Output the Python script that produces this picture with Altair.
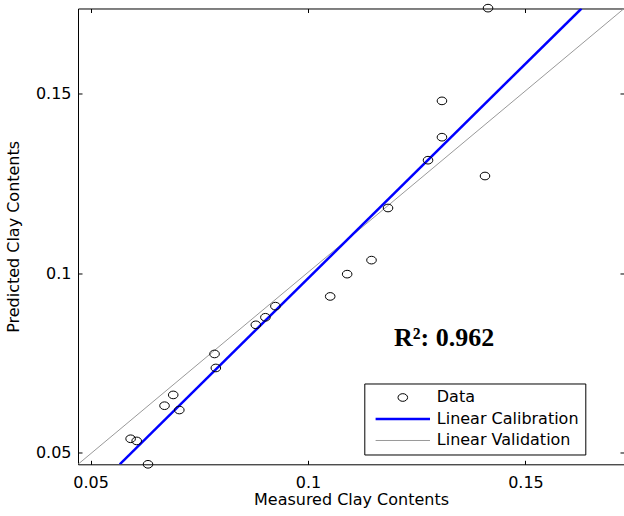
import altair as alt
import pandas as pd

# ---- data ----
measured = [0.1414, 0.1308, 0.1308, 0.1276, 0.1407, 0.1184, 0.1146, 0.1090, 0.1051, 0.0925,
            0.0902, 0.0880, 0.0785, 0.0788, 0.0690, 0.0670, 0.0704, 0.0592, 0.0606, 0.0632]
predicted = [0.1737, 0.1479, 0.1378, 0.1314, 0.1270, 0.1181, 0.1036, 0.0997, 0.0935, 0.0908,
             0.0877, 0.0856, 0.0775, 0.0736, 0.0661, 0.0631, 0.0619, 0.0539, 0.0533, 0.0468]
cal_x = [0.0567, 0.1629]
cal_y = [0.0468, 0.1736]
val_x = [0.0471, 0.1727]
val_y = [0.0468, 0.1736]
series = ["Data", "Linear Calibration", "Linear Validation"]
colors = ["#000000", "#0000ff", "#999999"]
tick_values = [0.05, 0.1, 0.15]
x_domain = [0.0471, 0.17267]
y_domain = [0.0468, 0.1736]
r2_text = ["R\u00b2: 0.962"]
r2_x = [0.1313]
r2_y = [0.0797]

FONT = "DejaVu Sans"
ELLIPSE = "M-0.6,0A0.6,0.48,0,1,1,0.6,0A0.6,0.48,0,1,1,-0.6,0Z"
STROKE = "M-3.4,0L3.4,0"

pts = pd.DataFrame({"x": measured, "y": predicted, "series": series[0]})
cal = pd.DataFrame({"x": cal_x, "y": cal_y, "series": series[1]})
val = pd.DataFrame({"x": val_x, "y": val_y, "series": series[2]})
ann = pd.DataFrame({"x": r2_x, "y": r2_y, "t": r2_text})

xs = alt.Scale(domain=x_domain, nice=False, zero=False)
ys = alt.Scale(domain=y_domain, nice=False, zero=False)
cs = alt.Scale(domain=series, range=colors)

legend = alt.Legend(
    title=None, orient="none", legendX=286.3, legendY=375,
    strokeColor="black", fillColor="white", padding=6, rowPadding=5.5,
    symbolSize=256, symbolOffset=24.5, labelOffset=26,
    symbolType=alt.ExprRef(expr=f"datum.value === 'Data' ? '{ELLIPSE}' : '{STROKE}'"),
    symbolStrokeWidth=alt.ExprRef(expr="datum.value === 'Linear Calibration' ? 2.5 : 1"),
    symbolFillColor="transparent", symbolOpacity=1,
    labelFont=FONT, labelFontSize=16, labelColor="black", labelLimit=300,
)


def main_axis(orient, title, label_pad, title_pad):
    return alt.Axis(orient=orient, values=tick_values, format="~g", ticks=False, tickSize=0,
                    domain=True, domainColor="black", domainWidth=1, grid=False,
                    labelFont=FONT, labelFontSize=16, labelColor="black",
                    labelPadding=label_pad, labelOverlap=False, labelFlush=False,
                    title=title, titleFont=FONT, titleFontSize=16, titleFontWeight="normal",
                    titleColor="black", titlePadding=title_pad)


def tick_axis(orient):
    return alt.Axis(orient=orient, values=tick_values, offset=-4, ticks=True, tickSize=4,
                    tickColor="black", tickWidth=1, domain=False, labels=False,
                    grid=False, title=None)


points = alt.Chart(pts).mark_point(shape=ELLIPSE, size=256, filled=False, strokeWidth=1,
                                   opacity=1).encode(
    x=alt.X("x:Q", scale=xs, axis=main_axis("bottom", "Measured Clay Contents", 10, 1.5)),
    y=alt.Y("y:Q", scale=ys, axis=main_axis("left", "Predicted Clay Contents", 7, 14)),
    stroke=alt.Stroke("series:N", scale=cs, legend=legend),
)

cal_line = alt.Chart(cal).mark_line(strokeWidth=2.5, clip=True).encode(
    x=alt.X("x:Q", scale=xs, axis=alt.Axis(orient="top", domain=True, domainColor="black",
                                           domainWidth=1, ticks=False, labels=False,
                                           grid=False, title=None)),
    y=alt.Y("y:Q", scale=ys, axis=tick_axis("right")),
    stroke=alt.Stroke("series:N", scale=cs),
)

val_line = alt.Chart(val).mark_line(strokeWidth=1, clip=True).encode(
    x=alt.X("x:Q", scale=xs, axis=tick_axis("bottom")),
    y=alt.Y("y:Q", scale=ys, axis=tick_axis("left")),
    stroke=alt.Stroke("series:N", scale=cs),
)

label = alt.Chart(ann).mark_text(font="Liberation Serif", fontSize=26, fontWeight="bold",
                                 color="black", align="center", baseline="alphabetic").encode(
    x=alt.X("x:Q", scale=xs, axis=tick_axis("top")),
    y=alt.Y("y:Q", scale=ys, axis=None),
    text="t:N",
)

chart = alt.layer(val_line, cal_line, points, label).resolve_axis(
    x="independent", y="independent"
).properties(
    width=546, height=455.8,
    padding={"left": 78, "top": 8.5, "right": 0, "bottom": 52},
    autosize=alt.AutoSizeParams(type="none"),
    background="white",
).configure_view(stroke=None)

chart.save("out.html", embed_options={"renderer": "svg", "actions": False})
